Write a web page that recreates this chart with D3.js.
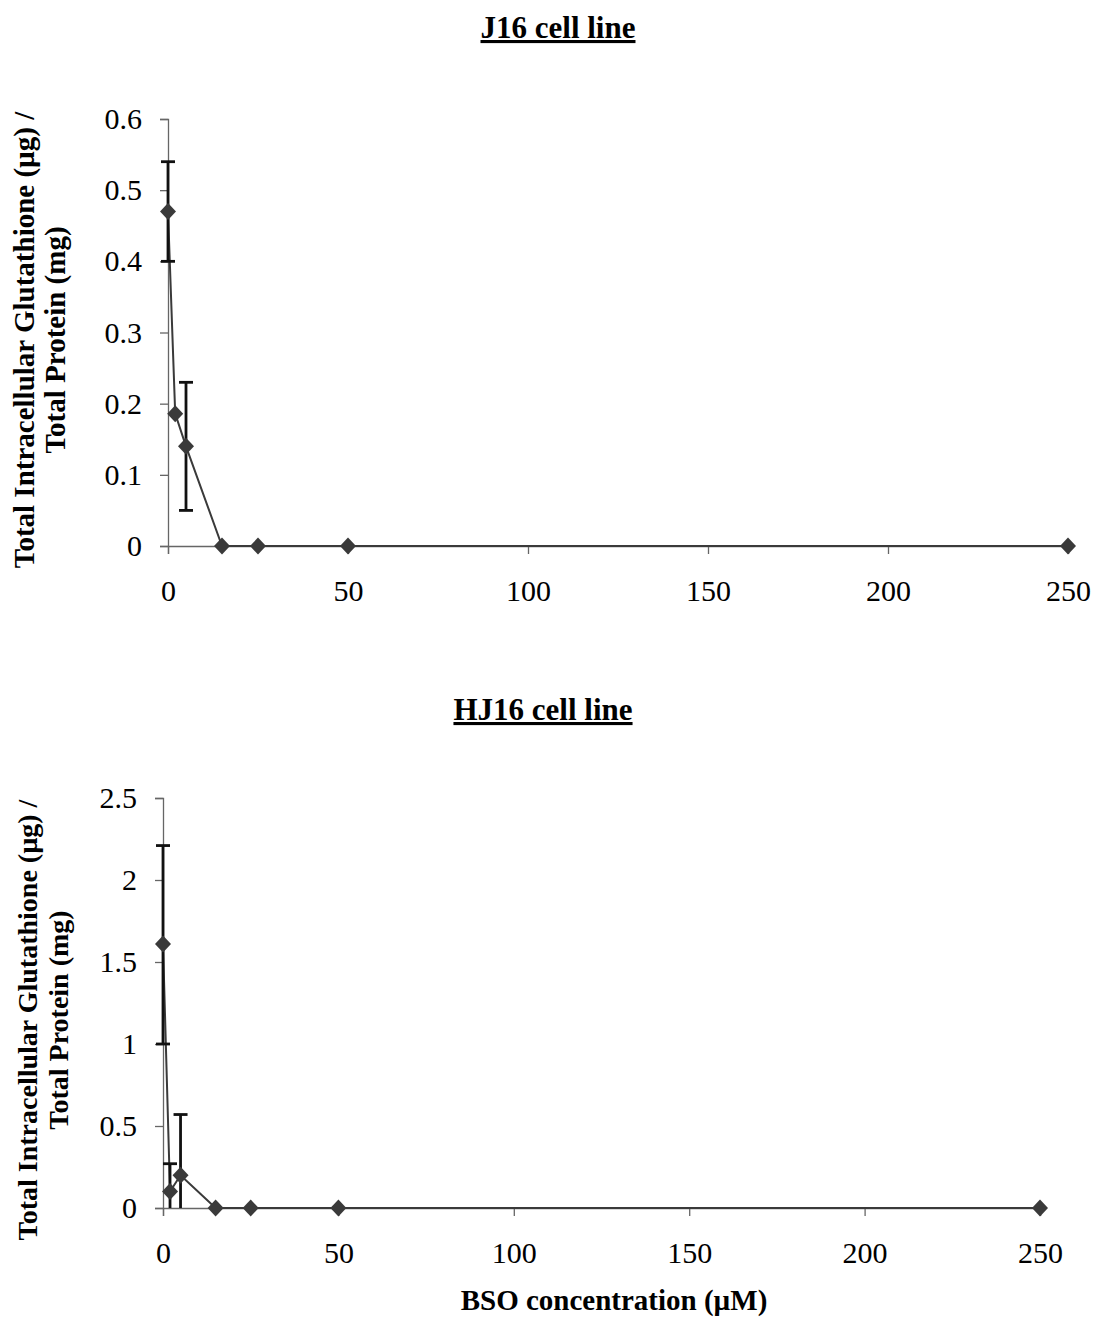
<!DOCTYPE html>
<html><head><meta charset="utf-8">
<script src="https://cdn.jsdelivr.net/npm/d3@7"></script>
<style>body{margin:0;background:#fff}</style>
</head><body>
<svg id="c" width="1093" height="1317"></svg>
<script>
const concentrations = [0, 2, 5, 15, 25, 50, 250];
const j16Values = [0.47, 0.186, 0.14, 0, 0, 0, 0];
const j16ErrLow = [0.40, null, 0.05, null, null, null, null];
const j16ErrHigh = [0.54, null, 0.23, null, null, null, null];
const hj16Values = [1.61, 0.10, 0.20, 0, 0, 0, 0];
const hj16ErrLow = [1.0, 0, 0, null, null, null, null];
const hj16ErrHigh = [2.21, 0.27, 0.57, null, null, null, null];
const xTicks = [0, 50, 100, 150, 200, 250];
const j16YTicks = [0, 0.1, 0.2, 0.3, 0.4, 0.5, 0.6];
const hj16YTicks = [0, 0.5, 1, 1.5, 2, 2.5];
const titles = ["J16 cell line", "HJ16 cell line"];
const yLabel = ["Total Intracellular Glutathione (µg) /", "Total Protein (mg)"];
const xLabel = "BSO concentration (µM)";

const svg = d3.select("#c");
const font = "'Liberation Serif','Times New Roman',serif";

function panel(cfg) {
  const x = d3.scaleLinear().domain([0, 250]).range([cfg.left, cfg.right]);
  const y = d3.scaleLinear().domain([0, cfg.ymax]).range([cfg.bottom, cfg.top]);
  const g = svg.append("g");
  const ya = g.append("g").attr("transform", `translate(${cfg.left},0)`)
    .call(d3.axisLeft(y).tickValues(cfg.yTicks).tickSize(8).tickPadding(18).tickFormat(d => String(+d.toFixed(1))));
  const xa = g.append("g").attr("transform", `translate(0,${cfg.bottom})`)
    .call(d3.axisBottom(x).tickValues(xTicks).tickSize(8).tickPadding(26).tickFormat(d3.format("d")));
  [ya, xa].forEach(a => {
    a.select(".domain").attr("stroke", "#666").attr("stroke-width", 1.3);
    a.selectAll(".tick line").attr("stroke", "#666").attr("stroke-width", 1.3);
    a.selectAll("text").attr("font-family", font).attr("font-size", 30).attr("fill", "#000");
  });
  g.append("path").datum(concentrations.map((c, i) => [c, cfg.values[i]]))
    .attr("fill", "none").attr("stroke", "#3a3a3a").attr("stroke-width", 2)
    .attr("d", d3.line().x(d => x(d[0])).y(d => y(d[1])));
  concentrations.forEach((c, i) => {
    if (cfg.hi[i] == null) return;
    const cx = x(c), y1 = y(cfg.lo[i]), y2 = y(cfg.hi[i]);
    g.append("line").attr("x1", cx).attr("x2", cx).attr("y1", y1).attr("y2", y2)
      .attr("stroke", "#111").attr("stroke-width", 2.8);
    g.append("line").attr("x1", cx - 7).attr("x2", cx + 7).attr("y1", y2).attr("y2", y2)
      .attr("stroke", "#111").attr("stroke-width", 2.8);
    if (cfg.lo[i] > 0)
      g.append("line").attr("x1", cx - 7).attr("x2", cx + 7).attr("y1", y1).attr("y2", y1)
        .attr("stroke", "#111").attr("stroke-width", 2.8);
  });
  g.selectAll("path.m").data(concentrations.map((c, i) => [c, cfg.values[i]])).join("path")
    .attr("class", "m")
    .attr("transform", d => `translate(${x(d[0])},${y(d[1])})`)
    .attr("d", "M0,-8.5L8,0L0,8.5L-8,0Z").attr("fill", "#3a3a3a");
  g.append("text").attr("x", cfg.titleX).attr("y", cfg.titleY)
    .attr("text-anchor", "middle").attr("font-family", font).attr("font-weight", "bold")
    .attr("font-size", 31).attr("text-decoration", "underline").text(cfg.title);
  const yl = g.append("text").attr("transform", `translate(${cfg.ylX},${cfg.ylY}) rotate(-90)`)
    .attr("text-anchor", "middle").attr("font-family", font).attr("font-weight", "bold").attr("font-size", cfg.ylSize);
  yl.append("tspan").attr("x", 0).attr("dy", 0).text(yLabel[0]);
  yl.append("tspan").attr("x", 0).attr("dy", 31).text(yLabel[1]);
  return x;
}

panel({left: 168, right: 1068, top: 119, bottom: 546, ymax: 0.6, yTicks: j16YTicks,
  values: j16Values, lo: j16ErrLow, hi: j16ErrHigh, title: titles[0], titleX: 558, titleY: 38,
  ylX: 34, ylY: 340, ylSize: 29});
panel({left: 163, right: 1040, top: 798, bottom: 1208, ymax: 2.5, yTicks: hj16YTicks,
  values: hj16Values, lo: hj16ErrLow, hi: hj16ErrHigh, title: titles[1], titleX: 543, titleY: 720,
  ylX: 37, ylY: 1020, ylSize: 28});

svg.append("text").attr("x", 614).attr("y", 1310).attr("text-anchor", "middle")
  .attr("font-family", font).attr("font-weight", "bold").attr("font-size", 29).text(xLabel);
</script>
</body></html>
